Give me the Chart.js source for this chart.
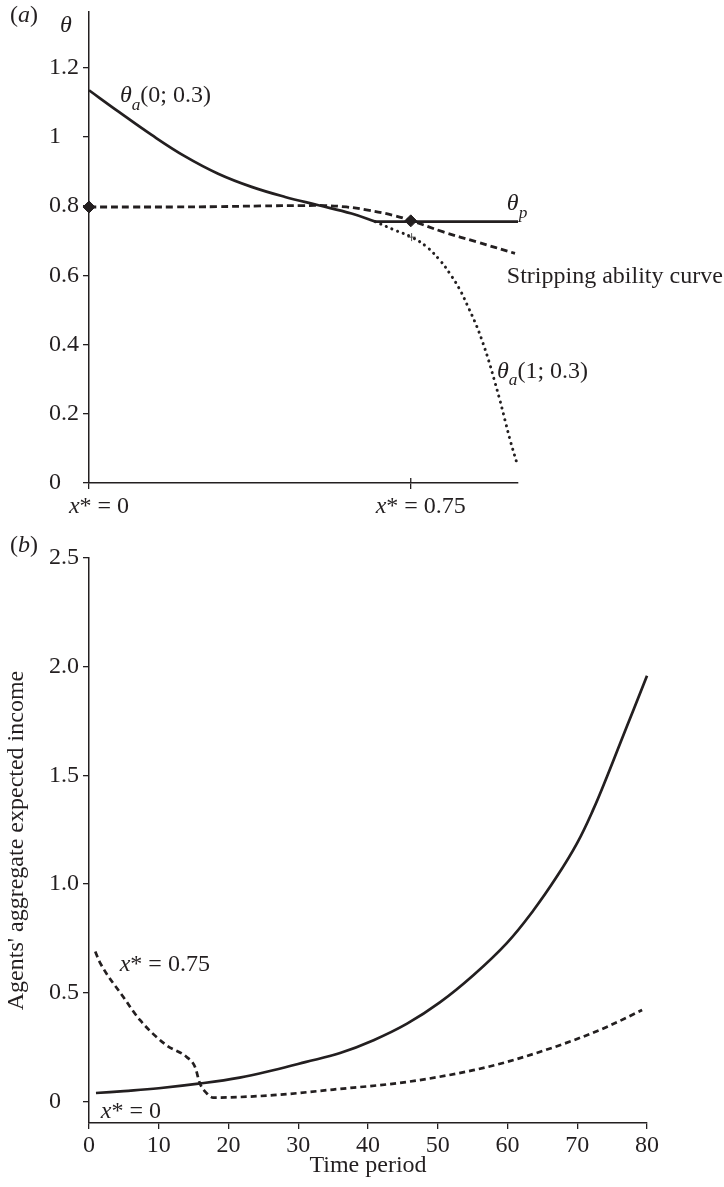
<!DOCTYPE html>
<html lang="en">
<head>
  <meta charset="UTF-8" />
  <title>Stripping ability and aggregate expected income</title>
  <script src="https://cdn.jsdelivr.net/npm/chart.js"></script>
  <style>
    body { margin: 0; background: #fff; }
    #panelA { position: absolute; left: 0; top: 0; }
    #panelB { position: absolute; left: 0; top: 530px; }
  </style>
</head>
<body>
  <canvas id="panelA" width="724" height="530"></canvas>
  <canvas id="panelB" width="724" height="657"></canvas>

  <script>
    // ---- panel (a): theta against x* ----
    const xTicksA = [0, 0.75];
    const xTickLabelsA = ['0', '0.75'];
    const thetaTicks = [0, 0.2, 0.4, 0.6, 0.8, 1, 1.2];

    const theta0X = [0, 0.068, 0.146, 0.224, 0.301, 0.379, 0.457, 0.535, 0.612, 0.667];
    const theta0Y = [1.134, 1.073, 1.005, 0.943, 0.893, 0.855, 0.826, 0.802, 0.778, 0.755];
    const thetaPX = [0.667, 1.0];
    const thetaPY = [0.755, 0.755];
    const stripX = [0, 0.1, 0.2, 0.3, 0.4, 0.5, 0.55, 0.6, 0.65, 0.709, 0.752, 0.826, 0.904, 0.993];
    const stripY = [0.797, 0.797, 0.797, 0.798, 0.8, 0.801, 0.801, 0.797, 0.788, 0.773, 0.757, 0.725, 0.696, 0.663];
    const theta1X = [0.667, 0.709, 0.752, 0.787, 0.818, 0.841, 0.865, 0.885, 0.903, 0.918, 0.932, 0.945, 0.958, 0.970, 0.982, 0.998];
    const theta1Y = [0.755, 0.732, 0.710, 0.682, 0.643, 0.605, 0.557, 0.505, 0.455, 0.405, 0.352, 0.296, 0.238, 0.180, 0.122, 0.055];
    const diamondX = [0, 0.75];
    const diamondY = [0.797, 0.757];
    const crossX = [0.752];
    const crossY = [0.710];

    // ---- panel (b): income over time ----
    const timeTicks = [0, 10, 20, 30, 40, 50, 60, 70, 80];
    const incomeTicks = [0, 0.5, 1, 1.5, 2, 2.5];
    const periodsZero = [1, 5, 10, 16, 21.6, 26.4, 31, 36, 40.8, 45.6, 50.3, 55.1, 59.9, 63.7, 67.1, 70.0, 72.3, 74.3, 76.2, 78.1, 80];
    const incomeZero = [0.038, 0.047, 0.06, 0.082, 0.109, 0.143, 0.18, 0.222, 0.281, 0.357, 0.455, 0.58, 0.728, 0.878, 1.035, 1.189, 1.343, 1.497, 1.651, 1.804, 1.958];
    const periodsHigh = [0.9, 1.5, 4.9, 7.3, 11.1, 14.0, 15.2, 15.9, 16.9, 17.8, 26.4, 35, 45.6, 55.1, 59.9, 64.7, 69.5, 74.3, 79.3];
    const incomeHigh = [0.689, 0.643, 0.481, 0.374, 0.258, 0.204, 0.158, 0.082, 0.036, 0.017, 0.028, 0.054, 0.089, 0.143, 0.181, 0.228, 0.281, 0.343, 0.42];

    const SERIF = '"Liberation Serif", "Times New Roman", serif';
    const INK = '#231f20';
    const FS = 24;

    const pts = (xs, ys) => xs.map((x, i) => ({ x: x, y: ys[i] }));

    // text with italic / subscript pieces: [text, italic, subscript]
    function richWidth(ctx, parts) {
      let w = 0;
      for (const [t, it, sub] of parts) {
        ctx.font = (it ? 'italic ' : '') + (sub ? FS * 0.72 : FS) + 'px ' + SERIF;
        w += ctx.measureText(t).width;
      }
      return w;
    }
    function richText(ctx, x, y, parts, align) {
      ctx.save();
      ctx.fillStyle = INK;
      ctx.textBaseline = 'alphabetic';
      ctx.textAlign = 'left';
      let cx = align === 'center' ? x - richWidth(ctx, parts) / 2 : x;
      for (const [t, it, sub] of parts) {
        ctx.font = (it ? 'italic ' : '') + (sub ? FS * 0.72 : FS) + 'px ' + SERIF;
        ctx.fillText(t, cx, sub ? y + FS * 0.3 : y);
        cx += ctx.measureText(t).width;
      }
      ctx.restore();
    }

    // y tick labels lined up on the decimal point
    function yLabels(ctx, scale, fmt) {
      ctx.save();
      ctx.font = FS + 'px ' + SERIF;
      ctx.fillStyle = INK;
      ctx.textAlign = 'right';
      ctx.textBaseline = 'middle';
      const right = scale.right - 6 - 4;
      const frac = ctx.measureText('.0').width;
      scale.ticks.forEach(t => {
        const s = fmt(t.value);
        const x = s.indexOf('.') < 0 ? right - frac : right;
        ctx.fillText(s, x, scale.getPixelForValue(t.value));
      });
      ctx.restore();
    }

    const lineStyle = { pointRadius: 0, fill: false, borderColor: INK, clip: false, tension: 0.4 };

    const labelsA = {
      id: 'labelsA',
      afterDraw(chart) {
        const { ctx, scales: { x, y } } = chart;
        yLabels(ctx, y, v => String(v));
        richText(ctx, 10, 22, [['(', false], ['a', true], [')', false]]);
        richText(ctx, 60, 32, [['θ', true]]);
        xTicksA.forEach((v, i) => {
          richText(ctx, x.getPixelForValue(v) + 10, 513, [['x', true], ['* = ' + xTickLabelsA[i], false]], 'center');
        });
        // tick at x* = 0.75 also shows above the axis
        ctx.save();
        ctx.strokeStyle = INK;
        ctx.lineWidth = 1.3;
        ctx.beginPath();
        ctx.moveTo(x.getPixelForValue(0.75), y.bottom);
        ctx.lineTo(x.getPixelForValue(0.75), y.bottom - 5);
        ctx.stroke();
        ctx.restore();
        richText(ctx, x.getPixelForValue(0.072), y.getPixelForValue(1.099), [['θ', true], ['a', true, true], ['(0; 0.3)', false]]);
        richText(ctx, x.getPixelForValue(0.974), y.getPixelForValue(0.787), [['θ', true], ['p', true, true]]);
        richText(ctx, x.getPixelForValue(0.974), y.getPixelForValue(0.577), [['Stripping ability curve', false]]);
        richText(ctx, x.getPixelForValue(0.951), y.getPixelForValue(0.303), [['θ', true], ['a', true, true], ['(1; 0.3)', false]]);
      }
    };

    new Chart(document.getElementById('panelA'), {
      type: 'line',
      data: {
        datasets: [
          { ...lineStyle, data: pts(theta0X, theta0Y), borderWidth: 2.7 },
          { ...lineStyle, data: pts(thetaPX, thetaPY), borderWidth: 2.7, tension: 0 },
          { ...lineStyle, data: pts(stripX, stripY), borderWidth: 2.8, borderDash: [7, 4] },
          { ...lineStyle, data: pts(theta1X, theta1Y), borderWidth: 3, borderDash: [0.1, 6], borderCapStyle: 'round' },
          { data: pts(crossX, crossY), showLine: false, pointStyle: 'cross', pointRadius: 4, pointBorderWidth: 1, pointBorderColor: '#555', clip: false },
          { data: pts(diamondX, diamondY), showLine: false, pointStyle: 'rectRot', pointRadius: 6, pointBackgroundColor: INK, pointBorderColor: INK, pointBorderWidth: 1, clip: false }
        ]
      },
      options: {
        responsive: false,
        animation: false,
        events: [],
        layout: { padding: { left: 0, top: 12, right: 206, bottom: 0 } },
        plugins: { legend: { display: false }, tooltip: { enabled: false } },
        scales: {
          x: {
            type: 'linear', min: 0, max: 1,
            afterBuildTicks: s => { s.ticks = xTicksA.map(v => ({ value: v })); },
            afterFit: s => { s.height = 47; },
            ticks: { display: false },
            grid: { drawOnChartArea: false, drawTicks: true, tickLength: 6, color: INK, lineWidth: 1.3 },
            border: { display: true, color: INK, width: 1.5 }
          },
          y: {
            type: 'linear', min: 0, max: 1.36,
            afterBuildTicks: s => { s.ticks = thetaTicks.map(v => ({ value: v })); },
            afterFit: s => { s.width = 89; },
            ticks: { display: false },
            grid: { drawOnChartArea: false, drawTicks: true, tickLength: 6, color: INK, lineWidth: 1.3 },
            border: { display: true, color: INK, width: 1.5 }
          }
        }
      },
      plugins: [labelsA]
    });

    const labelsB = {
      id: 'labelsB',
      afterDraw(chart) {
        const { ctx, scales: { x, y } } = chart;
        yLabels(ctx, y, v => v === 0 ? '0' : v.toFixed(1));
        richText(ctx, 10, 22, [['(', false], ['b', true], [')', false]]);
        richText(ctx, x.getPixelForValue(4.4), y.getPixelForValue(0.6), [['x', true], ['* = 0.75', false]]);
        richText(ctx, x.getPixelForValue(1.7), y.getPixelForValue(-0.078), [['x', true], ['* = 0', false]]);
      }
    };

    new Chart(document.getElementById('panelB'), {
      type: 'line',
      data: {
        datasets: [
          { ...lineStyle, data: pts(periodsZero, incomeZero), borderWidth: 2.7 },
          { ...lineStyle, data: pts(periodsHigh, incomeHigh), borderWidth: 2.7, borderDash: [6, 4], cubicInterpolationMode: 'monotone' }
        ]
      },
      options: {
        responsive: false,
        animation: false,
        events: [],
        layout: { padding: { left: 0, top: 28, right: 77, bottom: 0 } },
        plugins: { legend: { display: false }, tooltip: { enabled: false } },
        scales: {
          x: {
            type: 'linear', min: 0, max: 80,
            afterBuildTicks: s => { s.ticks = timeTicks.map(v => ({ value: v })); },
            afterFit: s => { s.height = 64; },
            ticks: { color: INK, font: { family: SERIF, size: FS }, padding: 2, maxRotation: 0 },
            grid: { drawOnChartArea: false, drawTicks: true, tickLength: 6, color: INK, lineWidth: 1.3 },
            border: { display: true, color: INK, width: 1.5 },
            title: { display: true, text: 'Time period', color: INK, font: { family: SERIF, size: FS }, padding: { top: 0, bottom: 7 } }
          },
          y: {
            type: 'linear', min: -0.1, max: 2.5,
            afterBuildTicks: s => { s.ticks = incomeTicks.map(v => ({ value: v })); },
            afterFit: s => { s.width = 89; },
            ticks: { display: false },
            grid: { drawOnChartArea: false, drawTicks: true, tickLength: 6, color: INK, lineWidth: 1.3 },
            border: { display: true, color: INK, width: 1.5 },
            title: { display: true, text: "Agents' aggregate expected income", color: INK, font: { family: SERIF, size: FS }, padding: { top: 2, bottom: 0 } }
          }
        }
      },
      plugins: [labelsB]
    });
  </script>
</body>
</html>
